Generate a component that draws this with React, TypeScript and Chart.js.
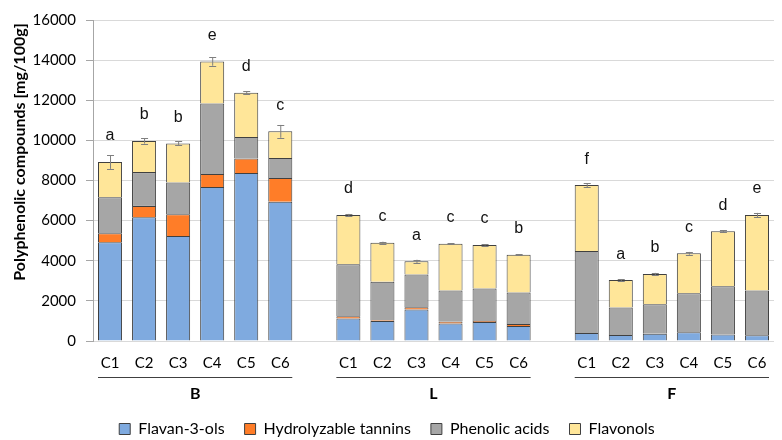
import React, { useEffect, useRef } from "react";
import { Chart, registerables } from "chart.js";
Chart.register(...registerables);

const categories = [
  "C1", "C2", "C3", "C4", "C5", "C6", "",
  "C1", "C2", "C3", "C4", "C5", "C6", "",
  "C1", "C2", "C3", "C4", "C5", "C6",
];
const groupNames = ["B", "L", "F"];
const groupStarts = [0, 7, 14];

const flavan3ols = [4920, 6170, 5235, 7670, 8370, 6935, null, 1120, 1000, 1570, 870, 950, 750, null, 400, 300, 365, 435, 320, 285];
const hydrolyzableTannins = [450, 565, 1085, 650, 730, 1185, null, 115, 40, 115, 100, 50, 100, null, null, null, null, null, null, null];
const phenolicAcids = [1800, 1685, 1580, 3515, 1070, 1000, null, 2585, 1910, 1635, 1550, 1620, 1570, null, 4085, 1370, 1470, 1950, 2415, 2235];
const flavonols = [1750, 1550, 1950, 2100, 2200, 1330, null, 2465, 1950, 650, 2330, 2165, 1880, null, 3285, 1365, 1500, 1985, 2735, 3765];
const errors = [340, 130, 100, 215, 80, 320, null, 50, 50, 80, 30, 30, 20, null, 100, 40, 60, 70, 50, 100];
const letters = ["a", "b", "b", "e", "d", "c", "", "d", "c", "a", "c", "c", "b", "", "f", "a", "b", "c", "d", "e"];

const yTicks = [0, 2000, 4000, 6000, 8000, 10000, 12000, 14000, 16000];
const yTitle = "Polyphenolic compounds [mg/100g]";

const overlayPlugin = {
  id: "overlay",
  afterDatasetsDraw(chart: any) {
    const { ctx, chartArea } = chart;
    const x = chart.scales.x;
    const y = chart.scales.y;
    const meta = chart.getDatasetMeta(0);
    ctx.save();
    for (let i = 0; i < categories.length; i++) {
      if (flavan3ols[i] == null) continue;
      const total = (flavan3ols[i] as number) + ((hydrolyzableTannins[i] as number) || 0) + (phenolicAcids[i] as number) + (flavonols[i] as number);
      const px = x.getPixelForValue(i);
      const err = errors[i] as number;
      const yTop = y.getPixelForValue(total + err);
      const yBot = y.getPixelForValue(total - err);
      ctx.strokeStyle = "#7f7f7f";
      ctx.lineWidth = 1;
      ctx.beginPath();
      ctx.moveTo(px + 0.5, yTop);
      ctx.lineTo(px + 0.5, yBot);
      ctx.moveTo(px - 3, Math.round(yTop) + 0.5);
      ctx.lineTo(px + 4, Math.round(yTop) + 0.5);
      ctx.moveTo(px - 3, Math.round(yBot) + 0.5);
      ctx.lineTo(px + 4, Math.round(yBot) + 0.5);
      ctx.stroke();
      const barTop = y.getPixelForValue(total);
      ctx.fillStyle = "#111";
      ctx.font = "16px 'Liberation Sans'";
      ctx.textAlign = "center";
      ctx.textBaseline = "middle";
      ctx.fillText(letters[i], px, barTop - 26);
    }
    groupStarts.forEach((s, g) => {
      const e = s + 5;
      const w1 = meta.data[s].width;
      const left = x.getPixelForValue(s) - w1 / 2;
      const right = x.getPixelForValue(e) + w1 / 2;
      const ly = Math.round(chartArea.bottom + 36) + 0.5;
      ctx.strokeStyle = "#404040";
      ctx.lineWidth = 1;
      ctx.beginPath();
      ctx.moveTo(left, ly);
      ctx.lineTo(right, ly);
      ctx.stroke();
      ctx.fillStyle = "#000";
      ctx.font = "bold 16px Lato";
      ctx.textAlign = "center";
      ctx.textBaseline = "middle";
      ctx.fillText(groupNames[g], (left + right) / 2, chartArea.bottom + 53);
    });
    ctx.translate(20, 152);
    ctx.rotate(-Math.PI / 2);
    ctx.fillStyle = "#000";
    ctx.font = "bold 16px Lato";
    ctx.textAlign = "center";
    ctx.textBaseline = "middle";
    ctx.fillText(yTitle, 0, 0);
    ctx.restore();
  },
};

export default function App() {
  const ref = useRef<HTMLCanvasElement>(null);
  useEffect(() => {
    document.body.style.margin = "0";
    const border = "#404040";
    const chart = new Chart(ref.current as HTMLCanvasElement, {
      type: "bar",
      data: {
        labels: categories,
        datasets: [
          { label: "Flavan-3-ols", data: flavan3ols, backgroundColor: "#7faadf", borderColor: border, borderWidth: 1 },
          { label: "Hydrolyzable tannins", data: hydrolyzableTannins, backgroundColor: "#ff7d28", borderColor: border, borderWidth: 1 },
          { label: "Phenolic acids", data: phenolicAcids, backgroundColor: "#a6a6a6", borderColor: border, borderWidth: 1 },
          { label: "Flavonols", data: flavonols, backgroundColor: "#ffe699", borderColor: border, borderWidth: 1 },
        ] as any,
      },
      options: {
        responsive: false,
        animation: false,
        layout: { padding: { top: 20, right: 8, left: 0, bottom: -7 } },
        datasets: { bar: { categoryPercentage: 1, barPercentage: 0.706, borderSkipped: "start" } } as any,
        plugins: {
          legend: {
            position: "bottom",
            labels: {
              boxWidth: 11,
              boxHeight: 11,
              padding: 20,
              color: "#000",
              font: { family: "Lato", size: 16 },
            },
          },
          tooltip: { enabled: false },
        },
        scales: {
          x: {
            stacked: true,
            grid: { display: false, drawTicks: false },
            border: { display: false },
            ticks: { color: "#000", font: { family: "Lato", size: 15 }, padding: 13, autoSkip: false, maxRotation: 0 },
            afterFit: (s: any) => { s.height = 60; },
          },
          y: {
            stacked: true,
            min: 0,
            max: 16000,
            afterBuildTicks: (s: any) => { s.ticks = yTicks.map((v) => ({ value: v })); },
            grid: { color: "#d9d9d9", tickColor: "#a6a6a6", tickLength: 7 },
            border: { display: true, color: "#a6a6a6" },
            ticks: { color: "#000", font: { family: "Lato", size: 15 }, padding: 10, callback: (v: any) => String(v) },
            afterFit: (s: any) => { s.width = 93; },
          },
        },
      },
      plugins: [overlayPlugin],
    });
    return () => chart.destroy();
  }, []);
  return (
    <div style={{ width: 782, height: 440 }}>
      <canvas ref={ref} width={782} height={440} />
    </div>
  );
}
